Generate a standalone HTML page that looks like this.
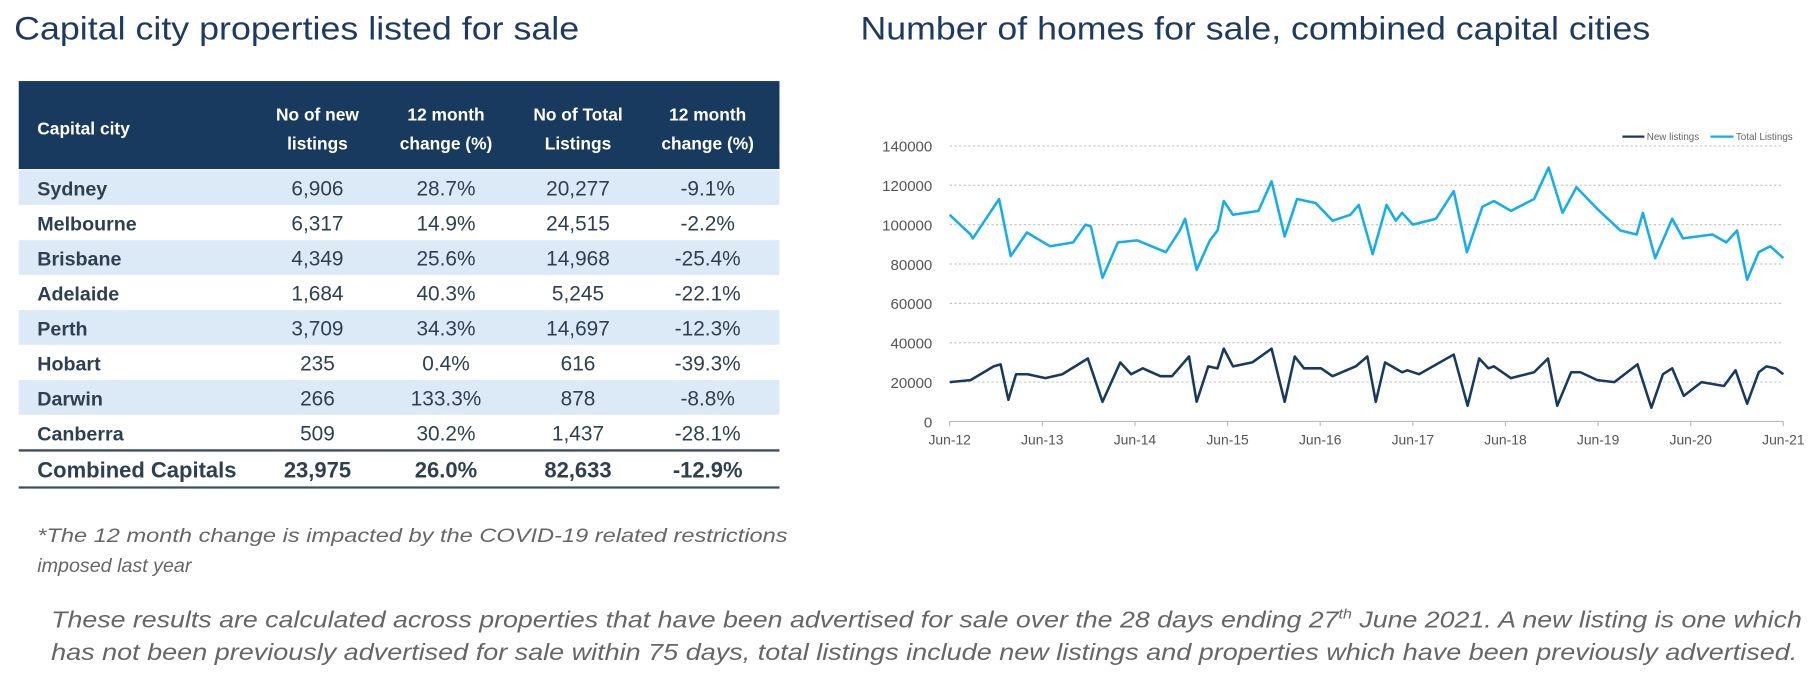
<!DOCTYPE html>
<html><head><meta charset="utf-8"><style>
html,body{margin:0;padding:0;background:#fff;width:1816px;height:682px;overflow:hidden}
svg{display:block}
</style></head><body>
<svg width="1816" height="682" viewBox="0 0 1568 589" xmlns="http://www.w3.org/2000/svg" font-family="Liberation Sans, sans-serif">
<text x="12" y="34" font-size="28" fill="#1f3a5f" textLength="488" lengthAdjust="spacingAndGlyphs">Capital city properties listed for sale</text>
<text x="743" y="34" font-size="28" fill="#1f3a5f" textLength="682" lengthAdjust="spacingAndGlyphs">Number of homes for sale, combined capital cities</text>

<g>
<rect x="16" y="70" width="657" height="76" fill="#183a5e"/>
<g font-size="15" font-weight="bold" fill="#fff" text-anchor="middle">
<text x="32" y="116" text-anchor="start" font-size="15">Capital city</text>
<text x="274" y="104">No of new</text><text x="274" y="129">listings</text>
<text x="385" y="104">12 month</text><text x="385" y="129">change (%)</text>
<text x="499" y="104">No of Total</text><text x="499" y="129">Listings</text>
<text x="611" y="104">12 month</text><text x="611" y="129">change (%)</text>
</g>
<g id="rows"></g>
<line x1="16" y1="389" x2="673" y2="389" stroke="#3c4f63" stroke-width="2"/>
<line x1="16" y1="421" x2="673" y2="421" stroke="#3c4f63" stroke-width="2"/>
</g>

<text font-size="17" font-style="italic" fill="#666">
<tspan x="32" y="468" textLength="648" lengthAdjust="spacingAndGlyphs">*The 12 month change is impacted by the COVID-19 related restrictions</tspan>
<tspan x="32" y="494">imposed last year</tspan></text>

<text font-size="20" font-style="italic" fill="#666">
<tspan x="44" y="542" textLength="1512" lengthAdjust="spacingAndGlyphs">These results are calculated across properties that have been advertised for sale over the 28 days ending 27<tspan font-size="12" dy="-8">th</tspan><tspan dy="8"> June 2021.  A new listing is one which</tspan></tspan>
<tspan x="44" y="570" textLength="1508" lengthAdjust="spacingAndGlyphs">has not been previously advertised for sale within 75 days, total listings include new listings and properties which have been previously advertised.</tspan></text>

<g id="chart"></g>
</svg>
<script>
const cities=["Sydney","Melbourne","Brisbane","Adelaide","Perth","Hobart","Darwin","Canberra","Combined Capitals"];
const newListings=["6,906","6,317","4,349","1,684","3,709","235","266","509","23,975"];
const newChange=["28.7%","14.9%","25.6%","40.3%","34.3%","0.4%","133.3%","30.2%","26.0%"];
const totalListings=["20,277","24,515","14,968","5,245","14,697","616","878","1,437","82,633"];
const totalChange=["-9.1%","-2.2%","-25.4%","-22.1%","-12.3%","-39.3%","-8.8%","-28.1%","-12.9%"];

const yTicks=[0,20000,40000,60000,80000,100000,120000,140000];
const xTickLabels=["Jun-12","Jun-13","Jun-14","Jun-15","Jun-16","Jun-17","Jun-18","Jun-19","Jun-20","Jun-21"];
const totalMonths=[0,2.7,3,6.4,7.9,10,13,16,17.6,18.3,19.8,21.8,24.3,28,29.8,30.5,32,33.7,34.7,35.5,36.7,40,41.7,43.4,45,47.4,49.6,51.9,53,54.8,56.6,57.8,58.6,60,63,65.3,67,69,70.5,72.7,75.7,77.6,79.4,81.2,83.9,86.9,89,89.8,91.4,93.6,95,98.8,100.6,102,103.3,104.8,106.3,108];
const totalValues=[105000,95000,93000,113000,84000,96000,89000,91000,100000,99000,73000,91000,92000,86000,97000,103000,77000,92000,97000,112000,105000,107000,122000,94000,113000,111000,102000,105000,110000,85000,110000,102000,106000,100000,103000,117000,86000,109000,112000,107000,113000,129000,106000,119000,108000,97000,95000,106000,83000,103000,93000,95000,91000,97000,72000,86000,89000,83000];
const newMonths=[0,2.7,5.7,6.6,7.6,8.6,10.1,12.4,14.6,17.9,19.8,22.1,23.5,25,27.3,28.8,31,32,33.5,34.7,35.5,36.7,39.2,41.7,43.4,44.7,45.9,48.1,49.6,52.6,54.1,55.2,56.4,58.6,59.3,60.8,65.3,67.1,68.6,69.8,70.5,72.7,75.7,77.5,78.7,80.5,81.7,83.9,86.1,89.1,90.9,92.4,93.6,95.1,97.4,100.3,101.8,103.3,104.8,105.8,107,108];
const newValues=[20000,21000,28000,29000,11000,24000,24000,22000,24000,32000,10000,30000,24000,27000,23000,23000,33000,10000,28000,27000,37000,28000,30000,37000,10000,33000,27000,27000,23000,28000,33000,10000,30000,25000,26000,24000,34000,8000,32000,27000,28000,22000,25000,32000,8000,25000,25000,21000,20000,29000,7000,24000,27000,13000,20000,18000,26000,9000,25000,28000,27000,24000];

const NS="http://www.w3.org/2000/svg";
function mk(tag,attrs,parent,text){const e=document.createElementNS(NS,tag);for(const k in attrs)e.setAttribute(k,attrs[k]);if(text!==undefined)e.textContent=text;parent.appendChild(e);return e;}

const rows=document.getElementById('rows');
const colX=[274,385,499,611];
cities.forEach((c,i)=>{
  const top=147+i*30.2+(i===8?2:0);
  const g=mk('g',{},rows);
  
  
  if(i%2===0&&i<8) mk('rect',{x:16,y:top,width:657,height:30,fill:'#dceaf8'},g);
  const bold=i===8;
  const base=top+22;
  mk('text',{x:32,y:base,'font-size':bold?19:17,'font-weight':'bold',fill:'#2e3f52'},g,c);
  [newListings[i],newChange[i],totalListings[i],totalChange[i]].forEach((v,j)=>{
    mk('text',{x:colX[j],y:base,'font-size':bold?19:18,'font-weight':bold?'bold':'normal',fill:'#2e3f52','text-anchor':'middle'},g,v);
  });
});

const chart=document.getElementById('chart');
const X0=820,X1=1540,Y0=364,YTOP=126;
const xs=m=>X0+m/108*(X1-X0);
const ys=v=>Y0-v/140000*(Y0-YTOP);
yTicks.forEach(t=>{
  if(t>0){const gl=mk('line',{x1:X0,x2:X1,y1:ys(t),y2:ys(t),stroke:'#c8c8c8','stroke-width':1,'stroke-dasharray':'2,2'},chart);
  
  }
  const tl=mk('text',{x:805,y:ys(t)+5,'font-size':13,fill:'#555','text-anchor':'end'},chart,String(t));
  
  
});
const ax=mk('line',{x1:X0,x2:X1,y1:Y0,y2:Y0,stroke:'#bbb','stroke-width':1},chart);


xTickLabels.forEach((l,i)=>{
  const x=xs(i*12);
  mk('line',{x1:x,x2:x,y1:Y0,y2:Y0+4,stroke:'#bbb'},chart);
  const tl=mk('text',{x:x,y:Y0+20,'font-size':12,fill:'#555','text-anchor':'middle'},chart,l);
  
  
});
function line(ms,vs,color,name){
  const p=mk('polyline',{points:ms.map((m,i)=>xs(m).toFixed(1)+','+ys(vs[i]).toFixed(1)).join(' '),fill:'none',stroke:color,'stroke-width':2.2,'stroke-linejoin':'round'},chart);
  
  
}
line(totalMonths,totalValues,'#16aee8','total-listings-line');
line(newMonths,newValues,'#173a5e','new-listings-line');
const lg=mk('g',{},chart);


mk('line',{x1:1401,x2:1420,y1:118,y2:118,stroke:'#173a5e','stroke-width':2},lg);
mk('text',{x:1422,y:121,'font-size':8.5,fill:'#666'},lg,'New listings');
mk('line',{x1:1477,x2:1497,y1:118,y2:118,stroke:'#16aee8','stroke-width':2},lg);
mk('text',{x:1499,y:121,'font-size':8.5,fill:'#666'},lg,'Total Listings');
</script>
</body></html>
